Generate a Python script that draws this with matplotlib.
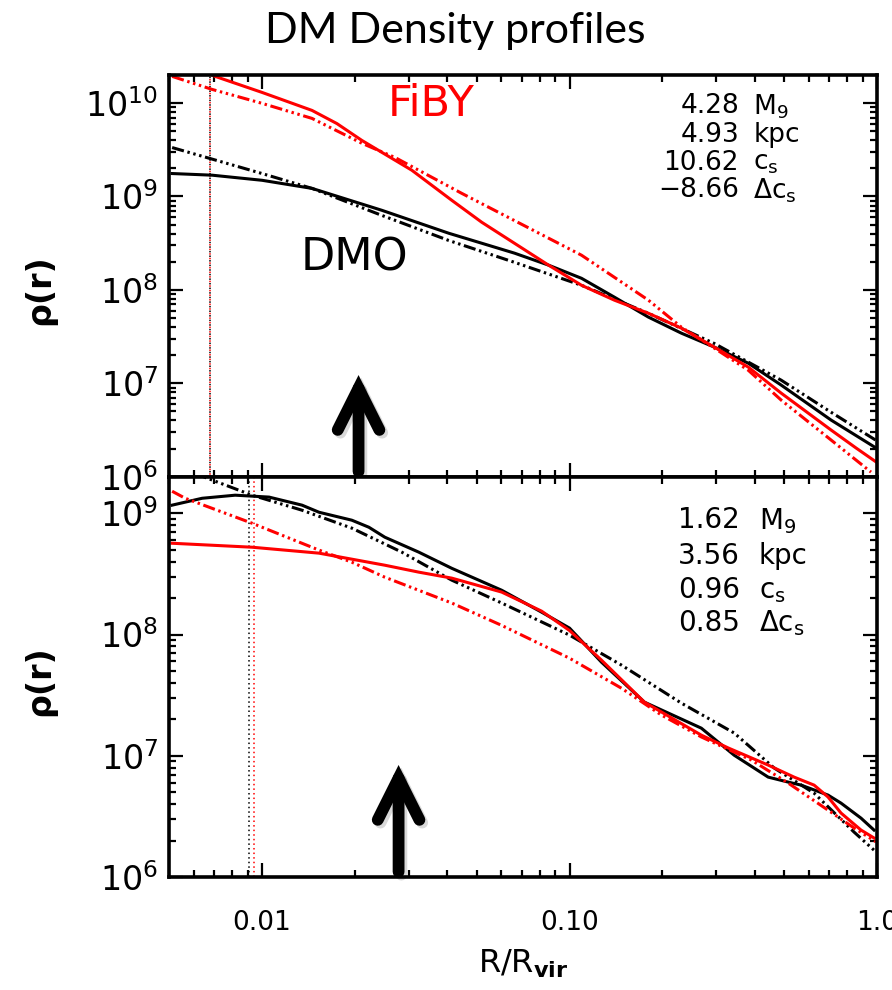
import math
import matplotlib
matplotlib.use('Agg')
import matplotlib.pyplot as plt
import matplotlib.ticker as mticker
import matplotlib.patheffects as pe
from matplotlib.patches import ArrowStyle

plt.rcParams['font.family'] = ['DejaVu Sans']
plt.rcParams['mathtext.fontset'] = 'dejavusans'

# ---- top panel (halo 1) ----
top_dmo_x = [0.0051, 0.00688, 0.01, 0.01454, 0.02453, 0.04047, 0.06629, 0.08545,
             0.1094, 0.1399, 0.1805, 0.2310, 0.2956, 0.3813, 0.4878, 0.7088, 0.9926]
top_dmo_y = [1.76e9, 1.69e9, 1.49e9, 1.22e9, 7.11e8, 4.04e8, 2.47e8, 1.84e8,
             1.33e8, 8.36e7, 5.11e7, 3.44e7, 2.44e7, 1.64e7, 9.57e6, 4.04e6, 2.03e6]
top_dmo_fit_x = [0.0051, 0.01, 0.01454, 0.02453, 0.04047, 0.06629, 0.1094, 0.1805,
                 0.2956, 0.4878, 0.7088, 0.9926]
top_dmo_fit_y = [3.34e9, 1.76e9, 1.22e9, 6.27e8, 3.38e8, 1.97e8, 1.12e8, 5.61e7,
                 2.67e7, 1.08e7, 4.90e6, 2.45e6]
top_fiby_x = [0.00593, 0.00704, 0.01, 0.01454, 0.01752, 0.02112, 0.03069, 0.0414,
              0.0518, 0.08545, 0.1094, 0.1399, 0.1805, 0.2310, 0.2956, 0.3813,
              0.4878, 0.7088, 0.8545, 0.9926]
top_fiby_y = [2.53e10, 1.93e10, 1.30e10, 8.34e9, 6.03e9, 3.98e9, 1.91e9, 9.10e8,
              5.30e8, 1.84e8, 1.12e8, 7.76e7, 5.62e7, 3.89e7, 2.44e7, 1.49e7,
              7.85e6, 3.16e6, 2.03e6, 1.44e6]
top_fiby_fit_x = [0.0051, 0.00688, 0.01, 0.01454, 0.02112, 0.02703, 0.04461,
                  0.1094, 0.1805, 0.2310, 0.2956, 0.3813, 0.4878, 0.7088, 0.9561]
top_fiby_fit_y = [1.93e10, 1.40e10, 9.93e9, 6.85e9, 3.71e9, 2.62e9, 1.08e9,
                  2.35e8, 7.76e7, 3.99e7, 2.38e7, 1.38e7, 6.61e6, 2.47e6, 1.12e6]
top_rs_dmo = 0.00676
top_rs_fiby = 0.00676
top_arrow_x = 0.0206
top_text_num = ['4.28', '4.93', '10.62', '\u22128.66']
top_text_unit = [r'M$_9$', 'kpc', r'c$_\mathrm{s}$', r'$\Delta$c$_\mathrm{s}$']

# ---- bottom panel (halo 2) ----
bot_dmo_x = [0.0051, 0.006386, 0.008176, 0.01054, 0.01349, 0.01532, 0.01959, 0.02226,
             0.02508, 0.03234, 0.04138, 0.06015, 0.0811, 0.1, 0.127, 0.1752, 0.2683,
             0.3433, 0.4426, 0.514, 0.5664, 0.6931, 0.7638, 0.8872, 0.9779]
bot_dmo_y = [1.167e9, 1.33e9, 1.41e9, 1.36e9, 1.167e9, 1.02e9, 8.77e8, 7.67e8,
             6.35e8, 4.78e8, 3.52e8, 2.32e8, 1.53e8, 1.13e8, 5.92e7, 2.77e7, 1.69e7,
             1.01e7, 6.67e6, 6.07e6, 5.73e6, 4.74e6, 4.07e6, 3.06e6, 2.44e6]
bot_dmo_fit_x = [0.00615, 0.006386, 0.00928, 0.01349, 0.01959, 0.02848, 0.04138,
                 0.06015, 0.1, 0.1475, 0.231, 0.3433, 0.4629, 0.6242, 0.8418, 0.9926]
bot_dmo_fit_y = [2.26e9, 2.02e9, 1.41e9, 1.06e9, 7.54e8, 4.78e8, 2.81e8,
                 1.82e8, 9.89e7, 5.60e7, 2.72e7, 1.54e7, 7.93e6, 4.92e6, 2.35e6, 1.61e6]
bot_fiby_x = [0.0051, 0.00928, 0.01532, 0.02508, 0.03234, 0.04138, 0.06015, 0.0811,
              0.1, 0.127, 0.1752, 0.2683, 0.3283, 0.4426, 0.5376, 0.6242, 0.6931,
              0.7638, 0.8872, 0.9779]
bot_fiby_y = [5.66e8, 5.25e8, 4.69e8, 3.73e8, 3.27e8, 2.92e8, 2.24e8, 1.56e8,
              1.08e8, 6.15e7, 2.77e7, 1.48e7, 1.16e7, 8.38e6, 6.67e6, 5.73e6, 4.57e6,
              3.37e6, 2.44e6, 2.10e6]
bot_fiby_fit_x = [0.0051, 0.005623, 0.00928, 0.01532, 0.01959, 0.02508, 0.04138,
                  0.06015, 0.1, 0.1475, 0.1989, 0.2683, 0.39, 0.514, 0.6931, 0.8418, 0.9926]
bot_fiby_fit_y = [1.52e9, 1.33e9, 8.28e8, 4.97e8, 3.95e8, 2.97e8, 1.82e8,
                  1.19e8, 6.38e7, 3.61e7, 2.17e7, 1.43e7, 9.23e6, 5.96e6, 3.56e6, 2.54e6, 1.95e6]
bot_rs_dmo = 0.00905
bot_rs_fiby = 0.0094
bot_arrow_x = 0.0278
bot_text_num = ['1.62', '3.56', '0.96', '0.85']
bot_text_unit = [r'M$_9$', 'kpc', r'c$_\mathrm{s}$', r'$\Delta$c$_\mathrm{s}$']

xticks = [0.01, 0.1, 1.0]
xticklabels = ['0.01', '0.10', '1.0']
top_yticks = [1e6, 1e7, 1e8, 1e9, 1e10]
bot_yticks = [1e6, 1e7, 1e8, 1e9]

fitstyle = (0, (4, 1.2, 0.8, 1.2, 0.8, 1.2, 0.8, 1.2))

fig = plt.figure(figsize=(8.92, 9.9), dpi=100)
ax1 = fig.add_axes([0.190, 0.5185, 0.7932, 0.4058])
ax2 = fig.add_axes([0.190, 0.1141, 0.7932, 0.4043])


def style_axes(ax, ylim, yticks):
    ax.set_xscale('log')
    ax.set_yscale('log')
    ax.set_xlim(0.005, 1.0)
    ax.set_ylim(*ylim)
    ax.set_xticks(xticks)
    ax.xaxis.set_minor_locator(mticker.LogLocator(subs=range(2, 10)))
    ax.xaxis.set_minor_formatter(mticker.NullFormatter())
    ax.set_yticks(yticks)
    ax.set_yticklabels([r'$10^{%d}$' % round(math.log10(v)) for v in yticks])
    ax.yaxis.set_minor_locator(mticker.LogLocator(subs=range(2, 10)))
    ax.yaxis.set_minor_formatter(mticker.NullFormatter())
    ax.tick_params(which='both', direction='in', top=True, right=True, width=1.6)
    ax.tick_params(which='major', length=10)
    ax.tick_params(which='minor', length=5)
    ax.tick_params(axis='y', labelsize=24, pad=8)
    ax.tick_params(axis='x', labelsize=19, pad=24)
    for s in ax.spines.values():
        s.set_linewidth(2.6)


def draw_arrow(ax, x, tip):
    tr = ax.get_xaxis_transform()
    ax.annotate('', xy=(x, tip), xytext=(x, 0.013), xycoords=tr, textcoords=tr,
                arrowprops=dict(arrowstyle=ArrowStyle('->', head_length=3.0, head_width=1.5),
                                lw=8.5, color='black', shrinkA=0, shrinkB=0,
                                mutation_scale=10, capstyle='round', joinstyle='miter',
                                path_effects=[pe.SimpleLineShadow(offset=(2, -2), alpha=0.15),
                                              pe.Normal()]),
                zorder=6)


def draw_labels(ax, nums, units, xn, xu, ys, size):
    for n, u, y in zip(nums, units, ys):
        ax.text(xn, y, n, transform=ax.transAxes, ha='right', va='center_baseline', fontsize=size)
        ax.text(xu, y, u, transform=ax.transAxes, ha='left', va='center_baseline', fontsize=size)


# top panel
style_axes(ax1, (1e6, 2e10), top_yticks)
ax1.set_xticklabels([])
ax1.axvline(top_rs_dmo, color='black', lw=1.1, ls=(0, (1, 2)), zorder=1)
ax1.axvline(top_rs_fiby, color='red', lw=1.1, ls=(1.5, (1, 2)), zorder=1)
ax1.plot(top_dmo_x, top_dmo_y, color='black', lw=2.2)
ax1.plot(top_dmo_fit_x, top_dmo_fit_y, color='black', lw=2.2, ls=fitstyle)
ax1.plot(top_fiby_x, top_fiby_y, color='red', lw=2.2)
ax1.plot(top_fiby_fit_x, top_fiby_fit_y, color='red', lw=2.2, ls=fitstyle)
ax1.text(0.370, 0.928, 'FiBY', color='red', fontsize=31, ha='center', va='center',
         transform=ax1.transAxes)
ax1.text(0.262, 0.545, 'DMO', color='black', fontsize=32, ha='center', va='center',
         transform=ax1.transAxes)
draw_labels(ax1, top_text_num, top_text_unit, 0.805, 0.825, [0.930, 0.858, 0.788, 0.721], 19)
draw_arrow(ax1, top_arrow_x, 0.253)
ax1.set_ylabel('\u03c1(r)', fontsize=24, fontweight='bold')
ax1.yaxis.set_label_coords(-0.16, 0.465)

# bottom panel
style_axes(ax2, (1e6, 2e9), bot_yticks)
ax2.set_xticklabels(xticklabels)
ax2.axvline(bot_rs_dmo, color='black', lw=1.1, ls=(0, (1, 2)), zorder=1)
ax2.axvline(bot_rs_fiby, color='red', lw=1.1, ls=(0, (1, 2)), zorder=1)
ax2.plot(bot_dmo_x, bot_dmo_y, color='black', lw=2.2)
ax2.plot(bot_dmo_fit_x, bot_dmo_fit_y, color='black', lw=2.2, ls=fitstyle)
ax2.plot(bot_fiby_x, bot_fiby_y, color='red', lw=2.2)
ax2.plot(bot_fiby_fit_x, bot_fiby_fit_y, color='red', lw=2.2, ls=fitstyle)
draw_labels(ax2, bot_text_num, bot_text_unit, 0.806, 0.833, [0.899, 0.809, 0.724, 0.642], 20)
draw_arrow(ax2, bot_arrow_x, 0.28)
ax2.set_ylabel('\u03c1(r)', fontsize=24, fontweight='bold')
ax2.yaxis.set_label_coords(-0.16, 0.49)
ax2.set_xlabel(r'R/R$_{\mathbf{vir}}$', fontsize=23, labelpad=8)

fig.text(0.51, 0.969, 'DM Density profiles', fontsize=31, family=['Lato', 'DejaVu Sans'],
         ha='center', va='center')

fig.savefig('out.png', dpi=100)
